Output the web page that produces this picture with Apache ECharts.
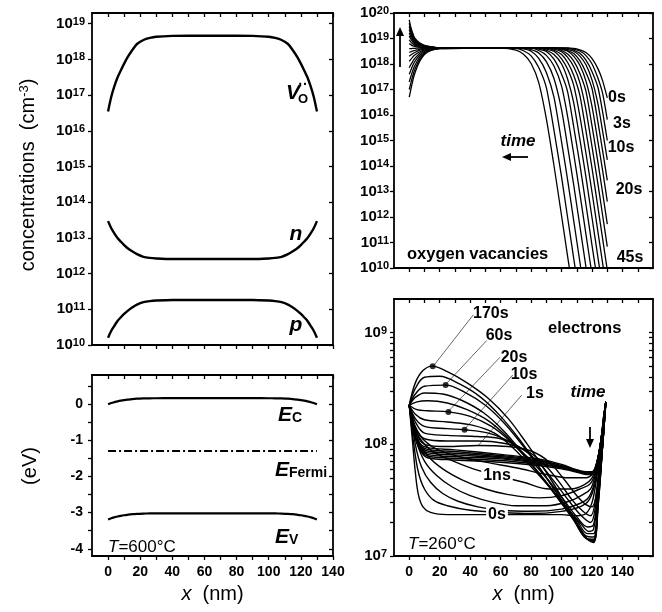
<!DOCTYPE html>
<html>
<head>
<meta charset="utf-8">
<script src="https://cdn.jsdelivr.net/npm/echarts@6/dist/echarts.min.js"></script>
<style>html,body{margin:0;background:#fff}#main{width:662px;height:612px}</style>
</head>
<body>
<div id="main"></div>
<script>
// ---- data (log panels hold log10 of the concentration) ----

// 600 degC equilibrium profiles, x in nm
const xProfile = [0,2,4,6,8,10,12,15,18,22,26,30,40,50,65,80,90,100,104,108,112,115,118,120,122,124,126,128,130];
const vacancy600 = [3.5e16,9e16,1.8e17,3.2e17,5e17,7.6e17,1.12e18,1.8e18,2.7e18,3.5e18,4.0e18,4.3e18,4.55e18,4.6e18,4.6e18,
                    4.6e18,4.55e18,4.3e18,4.0e18,3.5e18,2.7e18,1.8e18,1.12e18,7.6e17,5e17,3.2e17,1.8e17,9e16,3.5e16];
const electron600 = [2.95e13,1.86e13,1.32e13,9.8e12,7.8e12,6.3e12,5.2e12,4.2e12,3.5e12,2.95e12,2.75e12,2.66e12,2.57e12,2.57e12,2.57e12,
                     2.57e12,2.57e12,2.66e12,2.75e12,2.95e12,3.5e12,4.2e12,5.2e12,6.3e12,7.8e12,9.8e12,1.32e13,1.86e13,2.95e13];
const hole600 = [1.6e10,2.5e10,3.5e10,4.8e10,6e10,7.4e10,8.9e10,1.12e11,1.35e11,1.58e11,1.7e11,1.76e11,1.82e11,1.82e11,1.82e11,
                 1.82e11,1.82e11,1.76e11,1.7e11,1.58e11,1.35e11,1.12e11,8.9e10,7.4e10,6e10,4.8e10,3.5e10,2.5e10,1.6e10];
const bandEC = [-0.01,0.025,0.05,0.072,0.09,0.105,0.118,0.135,0.145,0.152,0.156,0.158,0.16,0.16,0.16,
                0.16,0.16,0.158,0.156,0.152,0.145,0.135,0.118,0.105,0.09,0.072,0.05,0.025,-0.01];
const bandEV = [-3.19,-3.155,-3.13,-3.108,-3.09,-3.075,-3.062,-3.045,-3.035,-3.028,-3.024,-3.022,-3.02,-3.02,-3.02,
                -3.02,-3.02,-3.022,-3.024,-3.028,-3.035,-3.045,-3.062,-3.075,-3.09,-3.108,-3.13,-3.155,-3.19];
const fermiX = [0,130];
const fermiE = [-1.3,-1.3];

// oxygen vacancies vs time (0s ... 45s), log10
const vacXLeft = [0,1,2,3,5,7,10,14,20];
const vacXRight = [60,70,75,80,85,90,95,100,104,108,112,116,120,124,127,130];
const vacLeftLog = [
  [16.7,16.99,17.26,17.51,17.85,18.12,18.37,18.52,18.6],
  [17.0,17.24,17.47,17.68,17.97,18.2,18.41,18.54,18.6],
  [17.3,17.5,17.68,17.85,18.09,18.28,18.45,18.55,18.61],
  [17.6,17.75,17.9,18.03,18.21,18.35,18.49,18.57,18.61],
  [17.85,17.97,18.07,18.17,18.31,18.42,18.52,18.58,18.61],
  [18.1,18.18,18.25,18.32,18.41,18.48,18.55,18.59,18.62],
  [18.3,18.35,18.39,18.43,18.49,18.54,18.58,18.6,18.62],
  [18.45,18.48,18.5,18.52,18.55,18.58,18.6,18.61,18.62],
  [18.6,18.6,18.61,18.61,18.62,18.62,18.62,18.62,18.62],
  [18.8,18.76,18.72,18.7,18.67,18.65,18.64,18.63,18.62],
  [18.95,18.87,18.81,18.76,18.71,18.68,18.65,18.64,18.62],
  [19.1,18.98,18.9,18.82,18.75,18.71,18.67,18.64,18.62],
  [19.22,19.07,18.97,18.87,18.78,18.73,18.68,18.65,18.63],
  [19.35,19.17,19.04,18.93,18.82,18.75,18.69,18.66,18.63],
  [19.47,19.26,19.11,18.98,18.85,18.77,18.71,18.66,18.63],
  [19.6,19.36,19.19,19.03,18.88,18.8,18.72,18.67,18.63],
  [19.73,19.45,19.26,19.09,18.92,18.82,18.73,18.68,18.63]
];
const vacRightLog = [
  [18.62,18.62,18.62,18.62,18.62,18.62,18.62,18.62,18.62,18.61,18.55,18.45,18.21,17.8,17.33,16.67],
  [18.62,18.62,18.62,18.62,18.62,18.62,18.62,18.62,18.62,18.58,18.51,18.33,18.0,17.42,16.83,15.82],
  [18.62,18.62,18.62,18.62,18.62,18.62,18.62,18.62,18.62,18.54,18.42,18.15,17.7,17.05,16.1,15.0],
  [18.62,18.62,18.62,18.62,18.62,18.62,18.62,18.62,18.57,18.5,18.31,17.97,17.37,16.4,15.34,14.24],
  [18.62,18.62,18.62,18.62,18.62,18.62,18.62,18.6,18.53,18.41,18.13,17.67,17.03,15.67,14.57,13.44],
  [18.62,18.62,18.62,18.62,18.62,18.62,18.62,18.57,18.5,18.3,17.95,17.33,16.33,14.9,13.8,12.6],
  [18.62,18.62,18.62,18.62,18.62,18.62,18.62,18.53,18.39,18.11,17.63,16.93,15.56,14.09,12.92,11.72],
  [18.62,18.62,18.62,18.62,18.62,18.62,18.58,18.48,18.26,17.89,17.27,16.2,14.75,13.24,12.04,10.84],
  [18.62,18.62,18.62,18.62,18.62,18.62,18.54,18.37,18.06,17.55,16.77,15.38,13.91,12.32,11.12,9.92],
  [18.62,18.62,18.62,18.62,18.62,18.58,18.5,18.2,17.79,17.15,15.96,14.5,12.96,11.36,10.16,8.96],
  [18.62,18.62,18.62,18.62,18.62,18.54,18.37,18.0,17.4,16.47,15.05,13.56,11.96,10.36,9.16,8.0],
  [18.62,18.62,18.62,18.62,18.58,18.49,18.19,17.6,16.9,15.52,14.06,12.48,10.88,9.28,8.0,7.0],
  [18.62,18.62,18.62,18.62,18.53,18.34,17.92,17.13,15.93,14.46,12.92,11.32,9.72,8.1,7.0,6.0],
  [18.62,18.62,18.62,18.56,18.43,18.09,17.43,16.2,14.75,13.24,11.64,10.04,8.4,7.0,6.0,5.0],
  [18.62,18.62,18.59,18.5,18.22,17.67,16.7,14.94,13.44,11.84,10.24,8.6,7.0,6.0,5.0,4.0],
  [18.62,18.61,18.52,18.32,17.86,17.07,15.41,13.56,11.96,10.36,8.76,7.0,6.0,5.0,4.0,3.0],
  [18.62,18.54,18.38,18.02,17.27,15.85,14.02,12.04,10.44,8.84,7.0,6.0,5.0,4.0,3.0,2.0]
];

// electrons at 260 degC, [x, log10 n]
const elecEarly = [
  [[0,8.35],[2,8.05],[4,7.75],[6,7.55],[9,7.44],[14,7.39],[25,7.37],[50,7.37],[80,7.37],[100,7.37],[110,7.36],[116,7.38],[120,7.48],[123,7.7],[126,8.05],[128,8.3]],
  [[0,8.35],[3,8.0],[6,7.75],[10,7.6],[16,7.5],[25,7.45],[40,7.41],[60,7.39],[80,7.38],[100,7.4],[112,7.44],[118,7.5],[122,7.65],[125,7.9],[128,8.3]],
  [[0,8.35],[4,8.0],[8,7.8],[14,7.66],[22,7.56],[32,7.49],[45,7.44],[60,7.41],[80,7.4],[100,7.42],[112,7.47],[118,7.53],[122,7.68],[125,7.92],[128,8.3]],
  [[0,8.35],[5,8.02],[10,7.85],[18,7.72],[28,7.62],[40,7.54],[55,7.48],[70,7.45],[90,7.45],[105,7.49],[114,7.55],[119,7.6],[122,7.72],[125,7.95],[128,8.3]],
  [[0,8.35],[5,8.06],[12,7.9],[22,7.78],[35,7.68],[50,7.6],[65,7.55],[85,7.52],[100,7.54],[112,7.6],[119,7.65],[123,7.78],[126,8.0],[128,8.3]],
  [[0,8.35],[5,8.1],[14,7.95],[27,7.86],[42,7.78],[58,7.72],[75,7.66],[92,7.6],[106,7.6],[115,7.64],[120,7.7],[124,7.85],[127,8.1],[129,8.35]],
  [[0,8.35],[5,8.12],[15,7.98],[30,7.9],[50,7.84],[70,7.79],[90,7.73],[105,7.7],[115,7.7],[120,7.73],[124,7.86],[127,8.1],[129,8.35]]
];
const elecMid = [
  [[0,8.35],[3,8.1],[7,7.95],[12,7.88],[30,7.86],[60,7.84],[85,7.81],[100,7.78],[110,7.75],[116,7.73],[120,7.73],[123,7.82],[126,8.05],[129,8.38]],
  [[0,8.35],[3,8.11],[7,7.96],[12,7.895],[30,7.875],[60,7.855],[85,7.82],[100,7.79],[110,7.76],[116,7.74],[120,7.74],[123,7.82],[126,8.05],[129,8.38]],
  [[0,8.35],[3,8.12],[7,7.97],[12,7.91],[30,7.89],[60,7.87],[85,7.83],[100,7.79],[110,7.76],[116,7.74],[120,7.74],[123,7.82],[126,8.05],[129,8.38]],
  [[0,8.35],[3,8.13],[7,7.98],[12,7.925],[30,7.905],[60,7.88],[85,7.84],[100,7.8],[110,7.76],[116,7.745],[120,7.745],[123,7.82],[126,8.05],[129,8.38]],
  [[0,8.35],[3,8.14],[7,7.99],[12,7.94],[30,7.92],[60,7.89],[85,7.85],[100,7.8],[110,7.765],[116,7.75],[120,7.75],[123,7.83],[126,8.05],[129,8.38]],
  [[0,8.35],[3,8.15],[7,8.0],[12,7.955],[30,7.935],[60,7.9],[85,7.86],[100,7.81],[110,7.77],[116,7.75],[120,7.75],[123,7.83],[126,8.05],[129,8.38]],
  [[0,8.35],[3,8.16],[7,8.01],[12,7.97],[30,7.95],[60,7.91],[85,7.87],[100,7.82],[110,7.77],[116,7.755],[120,7.755],[123,7.83],[126,8.05],[129,8.38]]
];
const elecLate = [
  [[0,8.35],[4,8.12],[10,8.0],[25,7.98],[45,7.99],[65,7.98],[80,7.94],[92,7.84],[102,7.68],[110,7.54],[116,7.46],[120,7.44],[123,7.58],[126,7.95],[129,8.38]],
  [[0,8.35],[4,8.16],[10,8.05],[25,8.03],[45,8.03],[62,8.01],[76,7.95],[88,7.83],[98,7.67],[107,7.5],[114,7.4],[119,7.36],[122,7.48],[125,7.85],[129,8.38]],
  [[0,8.35],[4,8.2],[10,8.1],[25,8.08],[45,8.07],[60,8.05],[72,7.98],[84,7.85],[95,7.67],[105,7.49],[113,7.36],[119,7.3],[122,7.42],[125,7.82],[129,8.38]],
  [[0,8.35],[4,8.23],[10,8.16],[25,8.14],[36,8.13],[52,8.1],[66,8.02],[78,7.88],[90,7.7],[101,7.51],[110,7.35],[117,7.26],[121,7.28],[124,7.6],[127,8.0],[129,8.38]],
  [[0,8.35],[4,8.27],[10,8.22],[25,8.2],[42,8.17],[56,8.1],[68,7.97],[80,7.8],[92,7.62],[103,7.44],[112,7.3],[118,7.22],[121,7.24],[124,7.58],[127,8.0],[129,8.38]],
  [[0,8.35],[5,8.31],[12,8.3],[26,8.29],[40,8.25],[54,8.16],[66,8.03],[78,7.86],[90,7.66],[101,7.47],[110,7.32],[117,7.2],[121,7.2],[124,7.55],[127,8.0],[129,8.38]],
  [[0,8.35],[5,8.38],[12,8.39],[25,8.37],[38,8.31],[52,8.21],[64,8.07],[76,7.89],[88,7.69],[99,7.49],[109,7.31],[116,7.18],[121,7.17],[124,7.52],[127,8.0],[129,8.38]],
  [[0,8.35],[4,8.42],[10,8.46],[22,8.45],[35,8.39],[49,8.28],[62,8.12],[74,7.93],[86,7.72],[98,7.51],[108,7.32],[116,7.16],[121,7.15],[124,7.5],[127,8.0],[129,8.38]],
  [[0,8.35],[4,8.45],[10,8.52],[24,8.53],[36,8.47],[50,8.35],[63,8.18],[75,7.98],[87,7.76],[98,7.54],[108,7.33],[116,7.16],[121,7.14],[124,7.48],[127,8.0],[129,8.38]],
  [[0,8.35],[4,8.5],[10,8.6],[20,8.61],[33,8.54],[47,8.42],[60,8.25],[72,8.05],[84,7.82],[96,7.58],[107,7.35],[115,7.17],[121,7.13],[124,7.46],[127,8.0],[129,8.38]],
  [[0,8.35],[4,8.55],[9,8.66],[15,8.7],[25,8.65],[38,8.55],[52,8.41],[65,8.23],[77,8.01],[89,7.77],[100,7.53],[110,7.3],[117,7.15],[121,7.12],[124,7.45],[127,8.0],[129,8.38]]
];
const elecDots = [[15.4,8.70],[23.9,8.53],[25.7,8.29],[36.3,8.13]];
const elecLeaders = [
  [[15.2,8.69],[42.1,9.16]],
  [[23.5,8.53],[50.9,8.93]],
  [[25.3,8.29],[59.6,8.78]],
  [[36.0,8.13],[67.9,8.62]],
  [[45.4,7.99],[73.8,8.44]]
];

// ---- chart ----
var myChart = echarts.init(document.getElementById('main'));
const FONT = '"Liberation Sans", Arial, sans-serif';
const BLACK = '#000';

const range = (a, b, s) => { const r = []; for (let v = a; v <= b + 1e-9; v += s) r.push(+v.toFixed(4)); return r; };
const logMinor = (d0, d1) => { const r = []; for (let d = d0; d <= d1; d++) for (let k = 1; k <= 9; k++) r.push(d + Math.log10(k)); return r; };
const supFmt = v => '{b|10}{s|' + Math.round(v) + '}';
const supRich = {
  b: { fontSize: 15, fontFamily: FONT, fontWeight: 'bold', color: BLACK, lineHeight: 15, verticalAlign: 'bottom' },
  s: { fontSize: 11, fontFamily: FONT, fontWeight: 'bold', color: BLACK, lineHeight: 11, verticalAlign: 'top', padding: [0, 0, 7, 0] }
};

const grids = [
  { left: 92, top: 13, width: 241, height: 332 },
  { left: 92, top: 375, width: 241, height: 181 },
  { left: 394, top: 13, width: 259, height: 255 },
  { left: 394, top: 299, width: 259, height: 257 }
];
const panelX = [
  { min: -10, max: 140, ticks: range(0, 140, 10), labels: range(0, 140, 20), show: false },
  { min: -10, max: 140, ticks: range(0, 140, 10), labels: range(0, 140, 20), show: true },
  { min: -10, max: 160, ticks: range(0, 150, 10), labels: range(0, 140, 20), show: false },
  { min: -10, max: 160, ticks: range(0, 150, 10), labels: range(0, 140, 20), show: true }
];
const panelY = [
  { min: 10, max: 19.3, ticks: range(10, 19, 1), labels: range(10, 19, 1), log: true, margin: 7 },
  { min: -4.2, max: 0.8, ticks: range(-4, 0.5, 0.5), labels: range(-4, 0, 1), log: false, margin: 9 },
  { min: 10, max: 20, ticks: range(10, 20, 1), labels: range(10, 20, 1), log: true, margin: 5 },
  { min: 7, max: 9.301, ticks: logMinor(7, 9).filter(v => v <= 9.301), labels: [7, 8, 9], log: true, margin: 7 }
];

const lineStyleAxis = { color: BLACK, width: 1.8 };
const tickStyle = { color: BLACK, width: 1.3 };
const xAxis = [], yAxis = [];
panelX.forEach((p, g) => {
  const base = { gridIndex: g, type: 'value', min: p.min, max: p.max, splitLine: { show: false },
    axisLine: { onZero: false, lineStyle: lineStyleAxis } };
  xAxis.push(Object.assign({}, base, {
    position: 'bottom',
    axisTick: { customValues: p.ticks, length: 4, lineStyle: tickStyle },
    axisLabel: { show: p.show, customValues: p.labels, color: BLACK, fontSize: 14, fontWeight: 'bold', fontFamily: FONT, margin: 9 },
    name: p.show ? '{i|x}  (nm)' : '', nameLocation: 'middle', nameGap: 28,
    nameTextStyle: { color: BLACK, fontSize: 20, fontFamily: FONT, rich: { i: { fontSize: 20, fontFamily: FONT, fontStyle: 'italic', color: BLACK } } }
  }));
  xAxis.push(Object.assign({}, base, {
    position: 'top',
    axisTick: { customValues: p.ticks, length: 4, inside: true, lineStyle: tickStyle },
    axisLabel: { show: false }
  }));
});
panelY.forEach((p, g) => {
  const base = { gridIndex: g, type: 'value', min: p.min, max: p.max, splitLine: { show: false },
    axisLine: { onZero: false, lineStyle: lineStyleAxis } };
  yAxis.push(Object.assign({}, base, {
    position: 'left',
    axisTick: { customValues: p.ticks, length: 4, lineStyle: tickStyle },
    axisLabel: p.log
      ? { customValues: p.labels, formatter: supFmt, rich: supRich, margin: p.margin }
      : { customValues: p.labels, color: BLACK, fontSize: 14, fontWeight: 'bold', fontFamily: FONT, margin: p.margin }
  }));
  yAxis.push(Object.assign({}, base, {
    position: 'right',
    axisTick: { customValues: p.ticks, length: 4, inside: true, lineStyle: tickStyle },
    axisLabel: { show: false }
  }));
});

const series = [];
function addLine(g, pts, width, extra) {
  series.push(Object.assign({
    type: 'line', xAxisIndex: 2 * g, yAxisIndex: 2 * g, data: pts, symbol: 'none',
    silent: true, smooth: 0.3, lineStyle: { color: BLACK, width: width }
  }, extra || {}));
}

// top-left: concentrations
[vacancy600, electron600, hole600].forEach(arr =>
  addLine(0, xProfile.map((x, i) => [x, Math.log10(arr[i])]), 2.4));
// bottom-left: band diagram
addLine(1, xProfile.map((x, i) => [x, bandEC[i]]), 2.2);
addLine(1, xProfile.map((x, i) => [x, bandEV[i]]), 2.2);
addLine(1, fermiX.map((x, i) => [x, fermiE[i]]), 2, { smooth: false, lineStyle: { color: BLACK, width: 2, type: [8, 3, 2, 3] } });
// top-right: oxygen vacancies vs time
vacLeftLog.forEach((left, k) => {
  const pts = vacXLeft.map((x, i) => [x, left[i]]).concat(vacXRight.map((x, i) => [x, vacRightLog[k][i]]));
  addLine(2, pts, 1.3, { smooth: 0.2 });
});
// bottom-right: electrons vs time
elecEarly.concat(elecMid, elecLate).forEach(c => addLine(3, c, 1.4, { smooth: 0.35 }));
elecLeaders.forEach(l => addLine(3, l, 0.6, { smooth: false }));
series.push({ type: 'scatter', xAxisIndex: 6, yAxisIndex: 6, data: elecDots, symbolSize: 6,
  itemStyle: { color: BLACK }, silent: true, z: 5 });

// ---- annotations ----
function txt(x, y, text, o, rot) {
  return { type: 'text', x: x, y: y, rotation: rot || 0, z: 100, silent: true,
    style: Object.assign({ text: text, fill: BLACK, fontFamily: FONT, fontSize: 16, align: 'center', verticalAlign: 'middle' }, o || {}) };
}
const it = { fontStyle: 'italic', fontWeight: 'bold' };
const eRich = {
  e: { fontSize: 21, fontFamily: FONT, fontStyle: 'italic', fontWeight: 'bold', lineHeight: 21, verticalAlign: 'top' },
  s: { fontSize: 14, fontFamily: FONT, fontWeight: 'bold', lineHeight: 14, verticalAlign: 'bottom', padding: [10, 0, 0, 0] }
};
function arrow(x1, y1, x2, y2) {
  const ang = Math.atan2(y2 - y1, x2 - x1), h = 9, w = 4;
  const bx = x2 - h * Math.cos(ang), by = y2 - h * Math.sin(ang);
  return [
    { type: 'line', z: 100, silent: true, shape: { x1: x1, y1: y1, x2: bx, y2: by }, style: { stroke: BLACK, lineWidth: 1.8 } },
    { type: 'polygon', z: 100, silent: true, shape: { points: [[x2, y2],
      [bx + w * Math.sin(ang), by - w * Math.cos(ang)], [bx - w * Math.sin(ang), by + w * Math.cos(ang)]] }, style: { fill: BLACK } }
  ];
}
const graphic = [
  txt(28, 175, 'concentrations  (cm{s|-3})', { fontSize: 20,
    rich: { s: { fontSize: 13, fontFamily: FONT, verticalAlign: 'top', lineHeight: 13, padding: [0, 0, 9, 0] } } }, Math.PI / 2),
  txt(30, 466, '(eV)', { fontSize: 20 }, Math.PI / 2),
  txt(293, 93, 'V', Object.assign({ fontSize: 21 }, it)),
  txt(303, 99, 'O', { fontSize: 13, fontWeight: 'bold' }),
  txt(303, 85, '··', { fontSize: 14, fontWeight: 'bold' }),
  txt(296, 234, 'n', Object.assign({ fontSize: 21 }, it)),
  txt(296, 325, 'p', Object.assign({ fontSize: 21 }, it)),
  txt(278, 415, '{e|E}{s|C}', { align: 'left', rich: eRich }),
  txt(275, 470, '{e|E}{s|Fermi}', { align: 'left', rich: eRich }),
  txt(275, 537, '{e|E}{s|V}', { align: 'left', rich: eRich }),
  txt(108, 547, '{i|T}=600°C', { align: 'left', fontSize: 17, rich: { i: { fontSize: 17, fontFamily: FONT, fontStyle: 'italic' } } }),
  txt(617, 98, '0s', { fontWeight: 'bold' }),
  txt(622, 124, '3s', { fontWeight: 'bold' }),
  txt(621, 148, '10s', { fontWeight: 'bold' }),
  txt(629, 190, '20s', { fontWeight: 'bold' }),
  txt(630, 258, '45s', { fontWeight: 'bold' }),
  txt(407, 254, 'oxygen vacancies', { align: 'left', fontSize: 16.5, fontWeight: 'bold' }),
  txt(518, 141, 'time', Object.assign({ fontSize: 17 }, it)),
  txt(548, 328, 'electrons', { align: 'left', fontSize: 16.5, fontWeight: 'bold' }),
  txt(588, 392, 'time', Object.assign({ fontSize: 17 }, it)),
  txt(408, 544, '{i|T}=260°C', { align: 'left', fontSize: 17, rich: { i: { fontSize: 17, fontFamily: FONT, fontStyle: 'italic' } } }),
  txt(473, 314, '170s', { align: 'left', fontWeight: 'bold' }),
  txt(499, 336, '60s', { fontWeight: 'bold' }),
  txt(514, 358, '20s', { fontWeight: 'bold' }),
  txt(524, 375, '10s', { fontWeight: 'bold' }),
  txt(535, 394, '1s', { fontWeight: 'bold' }),
  txt(497, 476, '1ns', { fontWeight: 'bold', backgroundColor: '#fff', padding: [0, 2] }),
  txt(497, 515, '0s', { fontWeight: 'bold', backgroundColor: '#fff', padding: [0, 2] })
].concat(arrow(400, 67, 400, 27), arrow(528, 157, 502, 157), arrow(590, 427, 590, 448));

option = {
  animation: false,
  backgroundColor: '#fff',
  grid: grids.map(g => Object.assign({ containLabel: false, outerBoundsMode: 'none' }, g)),
  xAxis: xAxis,
  yAxis: yAxis,
  series: series,
  graphic: graphic
};
option && myChart.setOption(option);
</script>
</body>
</html>
